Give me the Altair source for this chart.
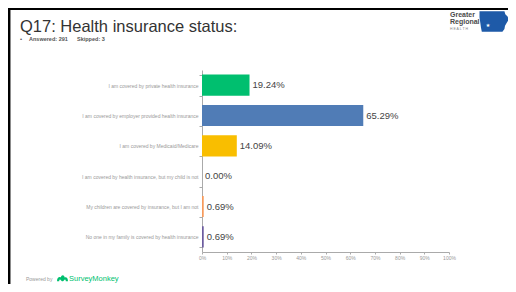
import altair as alt
import pandas as pd

categories = [
    "I am covered by private health insurance",
    "I am covered by employer provided health insurance",
    "I am covered by Medicaid/Medicare",
    "I am covered by health insurance, but my child is not",
    "My children are covered by insurance, but I am not",
    "No one in my family is covered by health insurance",
]
percents = [19.24, 65.29, 14.09, 0.00, 0.69, 0.69]
value_labels = ["19.24%", "65.29%", "14.09%", "0.00%", "0.69%", "0.69%"]
bar_colors = ["#00BF6F", "#507CB6", "#F9BE00", "#9E9E9E", "#F79A5B", "#6B5B9E"]
tick_values = [0, 10, 20, 30, 40, 50, 60, 70, 80, 90, 100]

title_text = "Q17: Health insurance status:"
answered_text = "Answered: 291"
skipped_text = "Skipped: 3"

df = pd.DataFrame({"category": categories, "pct": percents, "label": value_labels})
one = pd.DataFrame({"k": [0]})

FONT = "Liberation Sans"

x_axis = alt.Axis(
    values=tick_values, labelExpr="datum.value + '%'", grid=False, title=None,
    tickSize=2, labelFontSize=5, labelColor="#999999", labelPadding=1,
    domainColor="#aaaaaa", tickColor="#aaaaaa", labelFont=FONT,
    labelOverlap=False, labelFlush=False, labelSeparation=0,
)
y_axis = alt.Axis(
    title=None, labelFontSize=5, labelColor="#999999", tickBand="extent",
    tickSize=3, tickColor="#aaaaaa", domainColor="#aaaaaa", labelPadding=1,
    labelLimit=300, labelFont=FONT, labelOverlap=False,
)
x_scale = alt.Scale(domain=[0, 100], nice=False)
y_scale = alt.Scale(paddingInner=0.3, paddingOuter=0.15)

bars = alt.Chart(df).mark_bar().encode(
    x=alt.X("pct:Q", scale=x_scale, axis=x_axis),
    y=alt.Y("category:N", sort=categories, scale=y_scale, axis=y_axis),
    color=alt.Color("category:N", scale=alt.Scale(domain=categories, range=bar_colors), legend=None),
)
texts = alt.Chart(df).mark_text(align="left", baseline="middle", dx=3, fontSize=9.5,
                                color="#444444", font=FONT).encode(
    x=alt.X("pct:Q", scale=x_scale, axis=x_axis),
    y=alt.Y("category:N", sort=categories, scale=y_scale, axis=y_axis),
    text="label:N")


def txt(text, x, y, size, color, weight="normal", align="left", baseline="middle", font=FONT):
    return alt.Chart(one).mark_text(text=text, fontSize=size, color=color, fontWeight=weight,
                                    align=align, baseline=baseline, font=font).encode(
        x=alt.value(x), y=alt.value(y))


top_border = alt.Chart(one).mark_rule(color="black", strokeWidth=2).encode(
    x=alt.value(-194), x2=alt.value(306), y=alt.value(-61))
left_border = alt.Chart(one).mark_rule(color="black", strokeWidth=2.5).encode(
    x=alt.value(-192.8), y=alt.value(-62), y2=alt.value(214))

title = txt(title_text, -182, -38, 16.5, "#333333", baseline="alphabetic")
bullet = txt("•", -182, -31, 6, "#555555")
answered = txt(answered_text, -173, -31, 5.5, "#555555", weight="bold")
skipped = txt(skipped_text, -125, -31, 5.5, "#555555", weight="bold")

iowa_path = ("M-1,-0.7 L0.72,-0.7 L0.78,-0.5 L0.95,-0.32 L1,-0.1 L0.86,0.12 L0.76,0.3 "
             "L0.72,0.52 L0.58,0.7 L-0.84,0.7 L-0.9,0.42 L-0.94,0.12 L-1,-0.3 Z")
iowa = alt.Chart(one).mark_point(shape=iowa_path, filled=True, size=841, color="#1E5AA8", opacity=1).encode(
    x=alt.value(292), y=alt.value(-48.5))
star = txt("★", 286, -45, 5, "white", align="center", font="DejaVu Sans")
logo1 = txt("Greater", 248, -55.5, 7, "#4a4a4a", weight="bold")
logo2 = txt("Regional", 248, -48, 7, "#4a4a4a", weight="bold")
logo3 = txt("H E A L T H", 248, -41, 3.5, "#888888")

powered = txt("Powered by", -176, 209, 5, "#999999")
sm_path = ("M-1,0.5 C-1,-0.2 -0.6,-0.35 -0.3,-0.2 C-0.2,-0.75 0.3,-0.75 0.4,-0.2 "
           "C0.7,-0.35 1,-0.1 1,0.5 L0.6,0.5 C0.6,0.2 0.4,0.1 0.3,0.3 L0.1,0.5 L-0.1,0.5 "
           "L-0.3,0.3 C-0.4,0.1 -0.6,0.2 -0.6,0.5 Z")
sm_icon = alt.Chart(one).mark_point(shape=sm_path, filled=True, size=121, color="#00BF6F", opacity=1).encode(
    x=alt.value(-139.5), y=alt.value(208.5))
sm_text = txt("SurveyMonkey", -133, 209, 7.5, "#00BF6F")

chart = alt.layer(
    bars, texts, top_border, left_border, title, bullet, answered, skipped,
    iowa, star, logo1, logo2, logo3, powered, sm_icon, sm_text,
).properties(
    width=247, height=182,
    autosize=alt.AutoSizeParams(type="none"),
    padding={"left": 194, "top": 62, "right": 59, "bottom": 32},
    background="white",
).configure(
    font=FONT,
    view=alt.ViewConfig(stroke="transparent", strokeWidth=0),
    axis=alt.AxisConfig(labelOverlap=False),
)

chart.save("out.html", embed_options={"renderer": "svg", "actions": False})
